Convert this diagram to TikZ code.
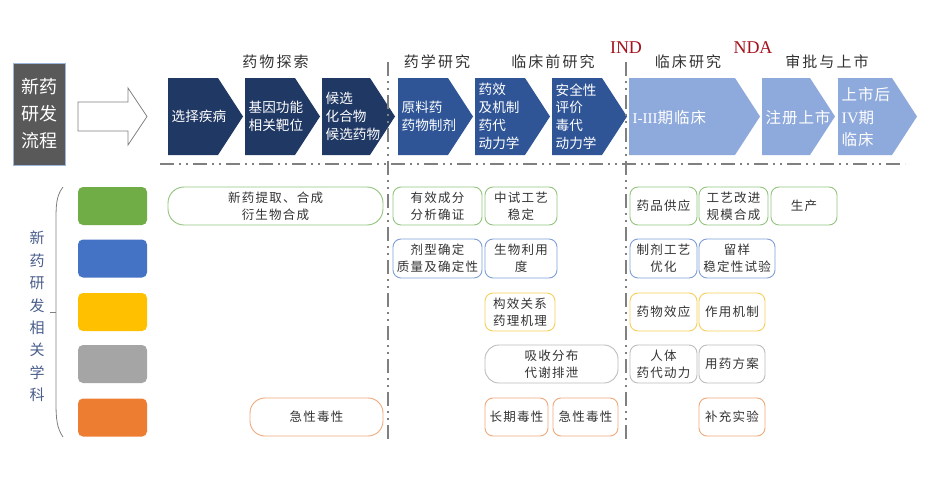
\documentclass[tikz,border=0pt]{standalone}
\usepackage{fontspec}
\setmainfont{Noto Sans CJK SC}
\newfontfamily\latf{Liberation Serif}
\newfontfamily\spf[LetterSpace=10]{Noto Sans CJK SC}
\newfontfamily\stf[LetterSpace=14]{Noto Sans CJK SC}
\newfontfamily\bigf[LetterSpace=6]{Noto Sans CJK SC}
\definecolor{navy}{HTML}{203864}
\definecolor{midblue}{HTML}{2F5597}
\definecolor{lightblue}{HTML}{8EA9DB}
\definecolor{titlegray}{HTML}{595959}
\definecolor{titleedge}{HTML}{9DB6DB}
\definecolor{sepgray}{HTML}{808080}
\definecolor{txtdark}{HTML}{333333}
\definecolor{msred}{HTML}{A5121E}
\definecolor{subjblue}{HTML}{4A5E8C}
\definecolor{cgreen}{HTML}{70AD47}
\definecolor{cblue}{HTML}{4472C4}
\definecolor{cyellow}{HTML}{FFC000}
\definecolor{cgray}{HTML}{A5A5A5}
\definecolor{corange}{HTML}{ED7D31}
\definecolor{bdgreen}{HTML}{93C47D}
\definecolor{bdblue}{HTML}{7F9FD6}
\definecolor{bdyellow}{HTML}{F5CF5A}
\definecolor{bdgray}{HTML}{BDBDBD}
\definecolor{bdorange}{HTML}{EFA97A}
\tikzset{
  chevtxt/.style={text=white, inner sep=0pt, align=left, anchor=west, font=\fontsize{13.6}{17.8}\selectfont},
  chevbig/.style={text=white, inner sep=0pt, align=left, anchor=west, font=\bigf\fontsize{15.5}{22.5}\selectfont},
  rbox/.style={fill=white, line width=0.9pt, inner sep=0pt, align=center, text=txtdark, font=\spf\fontsize{12.5}{17}\selectfont},
  stagelbl/.style={text=txtdark, inner sep=0pt, font=\stf\fontsize{15}{18}\selectfont},
  milestone/.style={text=msred, inner sep=0pt, font=\latf\fontsize{18}{20}\selectfont},
  sepline/.style={draw=sepgray, line width=2.3pt, dash pattern=on 14pt off 5pt on 2pt off 5pt on 2pt off 5pt},
  swatch/.style={rounded corners=5pt, minimum width=69pt, minimum height=38pt, inner sep=0pt},
}
\newcommand{\chevshape}[3]{%
  \fill[#3] (#1,78) -- ({#2-25},78) -- (#2,116.5) -- ({#2-25},155) -- (#1,155) -- cycle;}
\newcommand{\chev}[5]{%
  \chevshape{#2}{#3}{#4}
  \node[chevtxt] (#1) at ({#2+3.5},116.5) {#5};}
\newcommand{\chevb}[5]{%
  \chevshape{#2}{#3}{#4}
  \node[chevbig] (#1) at ({#2+3.5},117.5) {#5};}
\newcommand{\bx}[8]{%
  \node[rbox, draw=#6, rounded corners=#7, minimum width={#3-#2}, minimum height={#5-#4}] (#1) at ({(#2+#3)/2},{(#4+#5)/2}) {#8};}
\begin{document}
\begin{tikzpicture}[x=1pt,y=-1pt]
\useasboundingbox (0,0) rectangle (938,498);
\fill[white] (0,0) rectangle (938,498);

% title box
\node[fill=titlegray, draw=titleedge, line width=1pt, minimum width=52pt, minimum height=102pt,
      text=white, align=center, inner sep=0pt, font=\fontsize{18}{27}\selectfont] (title) at (39,114) {新药\\研发\\流程};
% hollow arrow
\draw[draw=sepgray, line width=0.8pt, fill=white] (78,102) -- (128,102) -- (128,88) -- (147,116.5) -- (128,145) -- (128,131) -- (78,131) -- cycle;

% chevrons
\chev{c1}{168}{243}{navy}{选择疾病}
\chev{c2}{245}{320}{navy}{基因功能\\相关靶位}
\chev{c3}{322}{395}{navy}{候选\\化合物\\候选药物}
\chev{c4}{398}{473}{midblue}{原料药\\药物制剂}
\chev{c5}{475}{550}{midblue}{药效\\及机制\\药代\\动力学}
\chev{c6}{552}{627}{midblue}{安全性\\评价\\毒代\\动力学}
\chevb{c7}{629}{760}{lightblue}{{\latf\fontsize{15}{17}\selectfont I-III}期临床}
\chevb{c8}{762}{835}{lightblue}{注册上市}
\chevb{c9}{838}{917}{lightblue}{上市后\\{\latf\fontsize{16}{17}\selectfont IV}期\\临床}

% stage labels
\node[stagelbl] (s1) at (275.5,62) {药物探索};
\node[stagelbl] (s2) at (437,62) {药学研究};
\node[stagelbl] (s3) at (553,62) {临床前研究};
\node[stagelbl] (s4) at (688,62) {临床研究};
\node[stagelbl] (s5) at (827,62) {审批与上市};
\node[milestone] (ind) at (626,48) {IND};
\node[milestone] (nda) at (753,48) {NDA};

% separators
\coordinate (v1t) at (388,62); \coordinate (v1b) at (388,442);
\coordinate (v2t) at (626,62); \coordinate (v2b) at (626,442);
\coordinate (hl) at (160,164); \coordinate (hr) at (905,164);
\draw[sepline] (hl) -- (hr);
\draw[sepline] (v1t) -- (v1b);
\draw[sepline] (v2t) -- (v2b);

% subject label and bracket
\node[text=subjblue, align=center, inner sep=0pt, font=\fontsize{15}{22.4}\selectfont] (subj) at (37,316.5)
  {新\\药\\研\\发\\相\\关\\学\\科};
\draw[draw=sepgray, line width=0.8pt] (63,187) .. controls (56,196) and (56,206) .. (56,222) -- (56,402) .. controls (56,420) and (57,428) .. (63,437);
\draw[draw=sepgray, line width=0.8pt] (50,312) -- (56,312);

% swatches
\node[swatch, fill=cgreen] (sqg) at (112.5,206) {};
\node[swatch, fill=cblue] (sqb) at (112.5,258.5) {};
\node[swatch, fill=cyellow] (sqy) at (112.5,312) {};
\node[swatch, fill=cgray] (sqa) at (112.5,364) {};
\node[swatch, fill=corange] (sqo) at (112.5,417.5) {};

% row 1 green
\bx{g1}{168}{383}{187}{225}{bdgreen}{16pt}{新药提取、合成\\衍生物合成}
\bx{g2}{393}{482}{187}{225}{bdgreen}{8pt}{有效成分\\分析确证}
\bx{g3}{485}{557}{187}{225}{bdgreen}{8pt}{中试工艺\\稳定}
\bx{g4}{630}{697}{187}{225}{bdgreen}{8pt}{药品供应}
\bx{g5}{699}{768}{187}{225}{bdgreen}{8pt}{工艺改进\\规模合成}
\bx{g6}{771}{837}{187}{225}{bdgreen}{8pt}{生产}
% row 2 blue
\bx{b1}{393}{482}{239}{278}{bdblue}{8pt}{剂型确定\\质量及确定性}
\bx{b2}{485}{557}{239}{278}{bdblue}{8pt}{生物利用\\度}
\bx{b3}{630}{697}{239}{278}{bdblue}{8pt}{制剂工艺\\优化}
\bx{b4}{699}{775}{239}{278}{bdblue}{8pt}{留样\\稳定性试验}
% row 3 yellow
\bx{y1}{485}{555}{293}{331}{bdyellow}{8pt}{构效关系\\药理机理}
\bx{y2}{630}{697}{293}{331}{bdyellow}{8pt}{药物效应}
\bx{y3}{699}{765}{293}{331}{bdyellow}{8pt}{作用机制}
% row 4 gray
\bx{a1}{485}{618}{345}{383}{bdgray}{14pt}{吸收分布\\代谢排泄}
\bx{a2}{630}{697}{345}{383}{bdgray}{8pt}{人体\\药代动力}
\bx{a3}{699}{765}{345}{383}{bdgray}{8pt}{用药方案}
% row 5 orange
\bx{o1}{250}{383}{398}{436}{bdorange}{15pt}{急性毒性}
\bx{o2}{485}{548}{398}{436}{bdorange}{8pt}{长期毒性}
\bx{o3}{553}{618}{398}{436}{bdorange}{8pt}{急性毒性}
\bx{o4}{699}{765}{398}{436}{bdorange}{8pt}{补充实验}
\end{tikzpicture}
\end{document}
